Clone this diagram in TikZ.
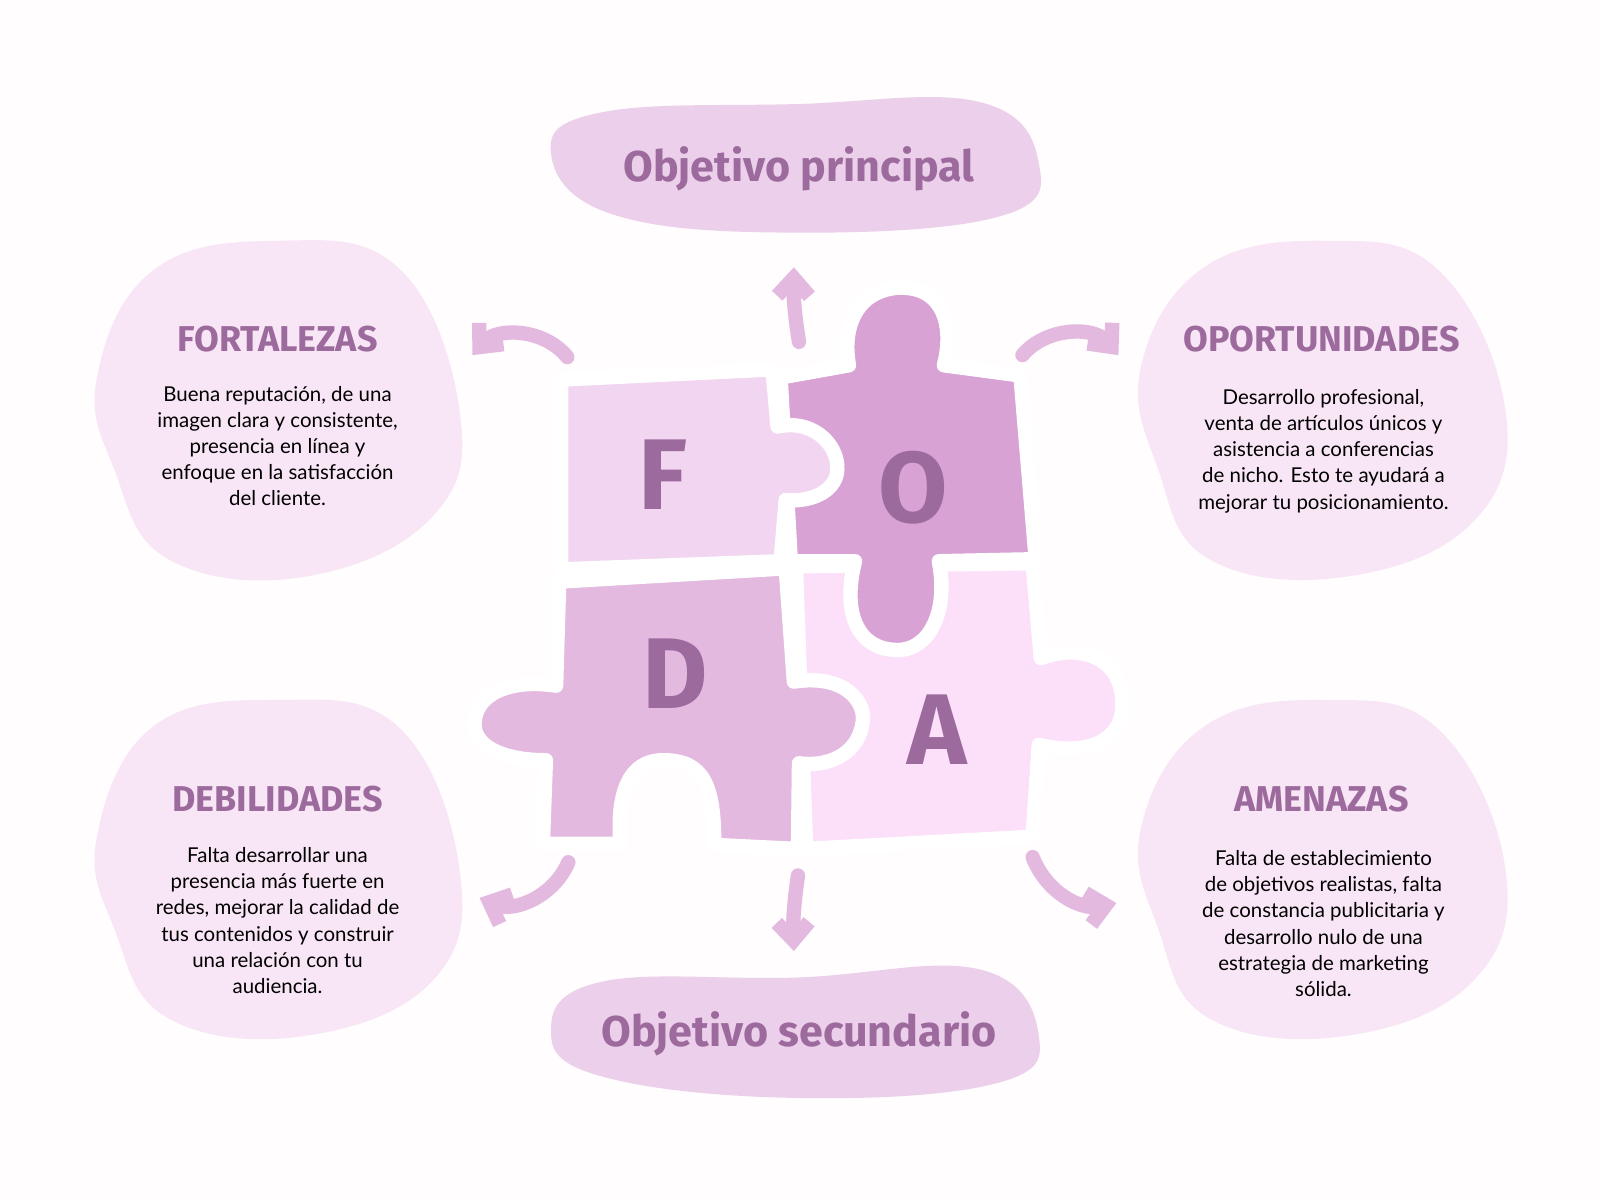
\documentclass[tikz,border=0pt]{standalone}
\usepackage{fontspec}
\setmainfont{Fira Sans}
\newfontfamily\bodyfont{Lato}
\usetikzlibrary{arrows.meta}
\definecolor{blobpink}{HTML}{F8E6F6}
\definecolor{goalpink}{HTML}{ECCFEA}
\definecolor{piecef}{HTML}{F2D5F0}
\definecolor{pieceo}{HTML}{D8A2D4}
\definecolor{pieced}{HTML}{E3B9E0}
\definecolor{piecea}{HTML}{FCE0FA}
\definecolor{inkpurple}{HTML}{9C6A9C}
\definecolor{arrowpink}{HTML}{E3B9E0}
\tikzset{
  blob/.style={fill=blobpink, draw=none},
  goal/.style={fill=goalpink, draw=none},
  piece/.style={draw=white, line width=4, line join=round},
  letter/.style={text=inkpurple, font=\fontsize{28}{28}\selectfont\bfseries},
  head/.style={text=inkpurple, font=\fontsize{10}{10}\selectfont\bfseries},
  goaltext/.style={text=inkpurple, font=\fontsize{12}{12}\selectfont\bfseries},
  body/.style={align=center, text=black, font=\bodyfont\fontsize{5.7}{7.3}\selectfont},
  flow/.style={draw=arrowpink, line width=4, line cap=round, -{Straight Barb[length=5pt, width=9pt]}}
}
\begin{document}
\begin{tikzpicture}[x=0.01cm, y=-0.01cm]
\fill[white!97!pink] (0,0) rectangle (1568,1176);
\useasboundingbox (0,0) rectangle (1568,1176);
% blobs
\fill[blob] plot[smooth cycle, tension=0.7] coordinates {(95,370) (150,265) (270,236) (390,262) (450,400) (425,505) (300,565) (165,548) (112,460)};
\fill[blob] plot[smooth cycle, tension=0.7] coordinates {(1118,360) (1180,262) (1300,236) (1410,265) (1475,400) (1445,510) (1320,565) (1185,548) (1135,460)};
\fill[blob] plot[smooth cycle, tension=0.7] coordinates {(95,820) (150,712) (270,686) (390,712) (450,850) (425,960) (300,1015) (165,998) (112,910)};
\fill[blob] plot[smooth cycle, tension=0.7] coordinates {(1118,812) (1180,712) (1300,686) (1410,715) (1475,850) (1445,960) (1320,1015) (1185,998) (1135,910)};
\fill[goal] plot[smooth cycle, tension=0.7] coordinates {(540,150) (590,110) (780,102) (960,100) (1018,160) (980,212) (780,228) (600,210)};
\fill[goal] plot[smooth cycle, tension=0.7] coordinates {(540,1010) (590,962) (780,958) (960,950) (1018,1015) (975,1062) (780,1076) (590,1055)};
% puzzle
\filldraw[piece, fill=piecea] (780,555) -- (1012,552) -- (1020,645) .. controls (1060,630) and (1100,645) .. (1100,690) .. controls (1100,730) and (1060,740) .. (1018,730) -- (1012,820) -- (790,832) -- cycle;
\filldraw[piece, fill=pieced] (548,570) -- (770,557) -- (778,668) .. controls (830,660) and (850,690) .. (845,710) .. controls (840,740) and (810,752) .. (783,748) -- (782,832) -- (700,828) .. controls (700,770) and (690,745) .. (650,745) .. controls (610,745) and (605,790) .. (608,827) -- (532,827) -- (535,745) .. controls (490,745) and (465,730) .. (465,710) .. controls (465,680) and (500,665) .. (545,672) -- cycle;
\filldraw[piece, fill=pieceo] (765,370) -- (832,358) .. controls (825,320) and (840,285) .. (880,282) .. controls (925,280) and (935,320) .. (925,358) -- (1000,368) -- (1015,548) -- (920,550) .. controls (930,600) and (910,637) .. (880,637) .. controls (840,637) and (825,600) .. (838,550) -- (775,550) -- cycle;
\filldraw[piece, fill=piecef] (550,372) -- (757,362) -- (762,418) .. controls (800,410) and (825,440) .. (820,465) .. controls (815,485) and (790,492) .. (770,490) -- (765,550) -- (550,558) -- cycle;
\node[letter] (lf) at (650,465) {F};
\node[letter] (lo) at (895,478) {O};
\node[letter] (ld) at (662,660) {D};
\node[letter] (la) at (918,715) {A};
% titles and texts
\node[goaltext] (gmain) at (783,165) {Objetivo principal};
\node[goaltext] (gsec) at (783,1013) {Objetivo secundario};
\node[head] (hf) at (272,332) {FORTALEZAS};
\node[body, anchor=north] (tf) at (272,366) {Buena reputación, de una\\imagen clara y consistente,\\presencia en línea y\\enfoque en la satisfacción\\del cliente.};
\node[head] (ho) at (1295,332) {OPORTUNIDADES};
\node[body, anchor=north] (to) at (1297,369) {Desarrollo profesional,\\venta de artículos únicos y\\asistencia a conferencias\\de nicho. Esto te ayudará a\\mejorar tu posicionamiento.};
\node[head] (hd) at (272,783) {DEBILIDADES};
\node[body, anchor=north] (td) at (272,818) {Falta desarrollar una\\presencia más fuerte en\\redes, mejorar la calidad de\\tus contenidos y construir\\una relación con tu\\audiencia.};
\node[head] (ha) at (1295,783) {AMENAZAS};
\node[body, anchor=north] (ta) at (1297,821) {Falta de establecimiento\\de objetivos realistas, falta\\de constancia publicitaria y\\desarrollo nulo de una\\estrategia de marketing\\sólida.};
% arrows
\coordinate (upa) at (783,335); \coordinate (upb) at (778,262);
\coordinate (tla) at (556,350); \coordinate (tlb) at (463,348);
\coordinate (tra) at (1002,348); \coordinate (trb) at (1096,348);
\coordinate (bla) at (557,845); \coordinate (blb) at (470,880);
\coordinate (dna) at (782,858); \coordinate (dnb) at (778,932);
\coordinate (bra) at (1012,840); \coordinate (brb) at (1094,885);
\draw[flow] (upa) to[bend left=5] (upb);
\draw[flow] (tla) to[bend right=50] (tlb);
\draw[flow] (tra) to[bend left=50] (trb);
\draw[flow] (bla) to[bend left=45] (blb);
\draw[flow] (dna) to[bend right=5] (dnb);
\draw[flow] (bra) to[bend right=40] (brb);
\end{tikzpicture}
\end{document}
